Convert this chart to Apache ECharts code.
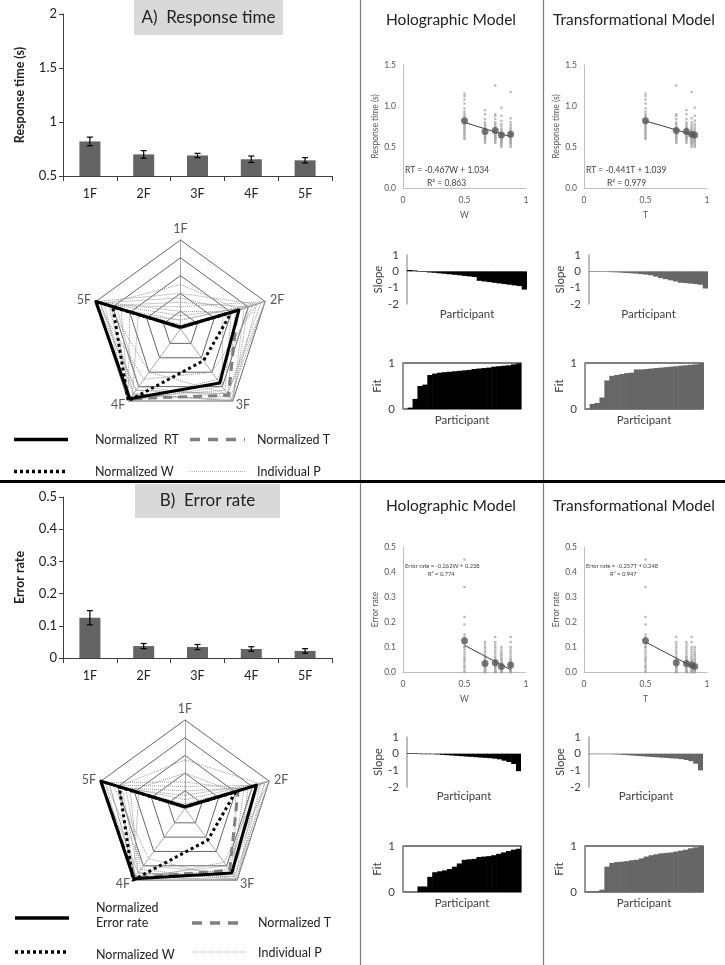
<!DOCTYPE html>
<html><head><meta charset="utf-8">
<script src="https://cdn.jsdelivr.net/npm/echarts@6/dist/echarts.min.js"></script>
<style>html,body{margin:0;padding:0;background:#fff}#c{width:725px;height:965px}</style>
</head><body><div id="c"></div>
<script>
const FONT = 'Lato';
// ---------- data ----------
const cats = ['1F', '2F', '3F', '4F', '5F'];
const rtMean = [0.82, 0.70, 0.69, 0.655, 0.645];
const rtErr = [0.04, 0.035, 0.02, 0.03, 0.025];
const erMean = [0.125, 0.037, 0.034, 0.028, 0.022];
const erErr = [0.022, 0.008, 0.008, 0.007, 0.007];
const wVal = [0.5, 0.75, 0.667, 0.875, 0.8];
const tVal = [0.5, 0.75, 0.833, 0.875, 0.9];

// radar (normalized, order 1F..5F)
const normRT = [0.02, 0.69, 0.75, 0.97, 1.0];
const normT_A = [0.02, 0.67, 0.92, 0.97, 1.0];
const normW_A = [0.02, 0.6, 0.44, 1.0, 0.8];
const normER = [0.02, 0.85, 0.9, 0.98, 1.0];
const normT_B = [0.02, 0.63, 0.86, 0.97, 1.0];
const normW_B = [0.02, 0.6, 0.44, 1.0, 0.78];
const indivA = [
  [0.0, 0.95, 0.9, 0.85, 1.0],
  [0.3, 0.8, 1.0, 0.9, 0.85],
  [0.5, 0.7, 0.75, 1.0, 0.9],
  [0.1, 1.0, 0.95, 0.8, 0.75],
  [0.2, 0.6, 0.85, 0.95, 1.0],
  [0.0, 0.85, 0.7, 1.0, 0.6],
  [0.4, 0.9, 0.6, 0.7, 1.0],
  [0.15, 0.75, 1.0, 0.9, 0.95],
  [0.05, 0.5, 0.8, 1.0, 0.7],
  [0.25, 1.0, 0.9, 0.6, 0.85],
  [0.1, 0.9, 0.98, 0.92, 0.5],
  [0.35, 0.65, 0.9, 0.85, 0.95]
];
const indivB = [
  [0.0, 1.0, 0.95, 0.9, 1.0],
  [0.55, 0.9, 1.0, 0.95, 0.8],
  [0.3, 0.7, 0.9, 1.0, 0.95],
  [0.15, 0.95, 1.0, 0.85, 0.7],
  [0.0, 0.8, 0.85, 1.0, 1.0],
  [0.4, 0.6, 0.95, 0.9, 0.65],
  [0.1, 1.0, 0.8, 0.95, 0.9],
  [0.25, 0.85, 1.0, 0.7, 0.85],
  [0.0, 0.9, 0.75, 1.0, 0.55],
  [0.05, 1.0, 1.0, 0.95, 0.9],
  [0.2, 0.75, 0.98, 0.9, 0.75],
  [0.0, 0.95, 0.9, 0.8, 0.95]
];

// individual RT per condition
const rtInd = [
  [0.6,0.61,0.63,0.65,0.67,0.69,0.7,0.72,0.74,0.75,0.77,0.78,0.8,0.82,0.84,0.86,0.88,0.9,0.93,0.97,1.03,1.08,1.12,1.15],
  [0.55,0.57,0.58,0.6,0.61,0.62,0.63,0.64,0.65,0.66,0.67,0.68,0.69,0.7,0.71,0.72,0.74,0.76,0.78,0.8,0.84,0.88,0.9,1.25],
  [0.55,0.57,0.59,0.6,0.61,0.62,0.63,0.64,0.65,0.66,0.67,0.68,0.69,0.7,0.71,0.72,0.73,0.74,0.76,0.78,0.8,0.84,0.9,0.95],
  [0.5,0.52,0.54,0.55,0.56,0.57,0.58,0.59,0.6,0.61,0.62,0.63,0.64,0.65,0.66,0.67,0.68,0.7,0.72,0.74,0.77,0.8,0.85,1.17],
  [0.5,0.52,0.53,0.55,0.56,0.57,0.58,0.59,0.6,0.61,0.62,0.63,0.64,0.65,0.66,0.67,0.68,0.7,0.72,0.75,0.78,0.82,0.88,0.98]
];
// individual error rate per condition
const erInd = [
  [0,0,0.01,0.02,0.02,0.03,0.04,0.05,0.05,0.06,0.07,0.08,0.09,0.1,0.1,0.11,0.12,0.13,0.14,0.15,0.19,0.22,0.34,0.45],
  [0,0,0,0,0.01,0.01,0.02,0.02,0.02,0.03,0.03,0.03,0.04,0.04,0.05,0.05,0.06,0.07,0.08,0.09,0.1,0.11,0.12,0.14],
  [0,0,0,0,0.01,0.01,0.01,0.02,0.02,0.03,0.03,0.03,0.04,0.04,0.05,0.05,0.06,0.06,0.07,0.08,0.09,0.1,0.11,0.12],
  [0,0,0,0,0,0.01,0.01,0.02,0.02,0.02,0.03,0.03,0.03,0.04,0.04,0.05,0.05,0.06,0.07,0.08,0.09,0.1,0.12,0.14],
  [0,0,0,0,0,0.01,0.01,0.01,0.02,0.02,0.02,0.03,0.03,0.03,0.04,0.04,0.05,0.05,0.06,0.07,0.07,0.08,0.09,0.1]
];
// regression line end points
const trendRT_W = [[0.5, 0.80], [0.875, 0.625]];
const trendRT_T = [[0.5, 0.818], [0.9, 0.642]];
const trendER_W = [[0.5, 0.107], [0.875, 0.009]];
const trendER_T = [[0.5, 0.120], [0.9, 0.017]];

// per participant slope / fit (sorted)
const slopeA_W = [0.08,0.06,-0.02,-0.04,-0.07,-0.09,-0.12,-0.15,-0.18,-0.21,-0.24,-0.28,-0.31,-0.35,-0.58,-0.62,-0.66,-0.7,-0.74,-0.78,-0.82,-0.86,-0.9,-1.12];
const slopeA_T = [0.0,-0.01,-0.02,-0.03,-0.05,-0.06,-0.08,-0.1,-0.12,-0.14,-0.17,-0.2,-0.24,-0.32,-0.42,-0.48,-0.55,-0.62,-0.7,-0.72,-0.75,-0.78,-0.82,-1.05];
const fitA_W = [0.0,0.03,0.22,0.5,0.53,0.74,0.77,0.79,0.8,0.81,0.82,0.83,0.84,0.85,0.87,0.88,0.89,0.9,0.92,0.93,0.94,0.95,0.97,0.99];
const fitA_T = [0.0,0.11,0.13,0.25,0.62,0.72,0.74,0.76,0.78,0.79,0.86,0.86,0.87,0.88,0.89,0.9,0.91,0.92,0.93,0.94,0.95,0.96,0.97,0.99];
const slopeB_W = [0.02,0.02,0.01,0.0,-0.01,-0.03,-0.05,-0.07,-0.09,-0.11,-0.13,-0.15,-0.17,-0.19,-0.21,-0.23,-0.25,-0.27,-0.3,-0.34,-0.42,-0.5,-0.62,-1.05];
const slopeB_T = [0.0,0.0,-0.01,-0.02,-0.03,-0.05,-0.06,-0.08,-0.1,-0.12,-0.14,-0.16,-0.18,-0.2,-0.22,-0.24,-0.26,-0.28,-0.3,-0.33,-0.38,-0.45,-0.6,-1.0];
const fitB_W = [0,0,0,0.12,0.12,0.33,0.43,0.45,0.47,0.5,0.55,0.62,0.7,0.71,0.72,0.76,0.77,0.78,0.8,0.83,0.86,0.89,0.92,0.94];
const fitB_T = [0.01,0.01,0.02,0.05,0.55,0.63,0.65,0.66,0.67,0.69,0.7,0.73,0.77,0.8,0.82,0.84,0.85,0.86,0.88,0.9,0.92,0.95,0.97,0.99];
const participants = slopeA_W.map((_, i) => 'P' + (i + 1));

// ---------- build ----------
const chart = echarts.init(document.getElementById('c'));
const grids = [], xAxes = [], yAxes = [], series = [];
function addGrid(g, x, y) {
  grids.push(g); const i = grids.length - 1;
  xAxes.push(Object.assign({gridIndex: i}, x));
  yAxes.push(Object.assign({gridIndex: i}, y));
  return i;
}
const errRender = (params, api) => {
  const x = api.value(0), y = api.value(1), e = api.value(2);
  const lo = api.coord([x, y - e]), hi = api.coord([x, y + e]);
  const w = 3, st = {stroke: '#000', lineWidth: 1.2};
  return {type: 'group', children: [
    {type: 'line', shape: {x1: lo[0], y1: lo[1], x2: hi[0], y2: hi[1]}, style: st},
    {type: 'line', shape: {x1: lo[0] - w, y1: lo[1], x2: lo[0] + w, y2: lo[1]}, style: st},
    {type: 'line', shape: {x1: hi[0] - w, y1: hi[1], x2: hi[0] + w, y2: hi[1]}, style: st}
  ]};
};
function barPanel(top, height, ymin, ymax, interval, name, means, errs) {
  const i = addGrid({left: 63, top, width: 269, height},
    {type: 'category', data: cats,
     axisLine: {lineStyle: {color: '#404040'}},
     axisTick: {show: true, length: 5, lineStyle: {color: '#404040'}},
     axisLabel: {fontSize: 12.5, color: '#222', margin: 11, fontFamily: FONT}},
    {type: 'value', min: ymin, max: ymax, interval,
     axisLine: {show: true, lineStyle: {color: '#404040'}},
     axisTick: {show: true, length: 4, lineStyle: {color: '#404040'}},
     splitLine: {show: false},
     axisLabel: {fontSize: 13, color: '#222', margin: 6, fontFamily: FONT},
     name, nameLocation: 'middle', nameGap: 37,
     nameTextStyle: {fontSize: 12.5, fontWeight: 'bold', color: '#222', fontFamily: FONT}});
  series.push({type: 'bar', xAxisIndex: i, yAxisIndex: i, data: means, barWidth: 21,
    itemStyle: {color: '#646464'}, clip: true});
  series.push({type: 'custom', xAxisIndex: i, yAxisIndex: i, z: 5,
    data: means.map((m, k) => [k, m, errs[k]]), renderItem: errRender});
}
barPanel(14, 162, 0.5, 2, 0.5, 'Response time (s)', rtMean, rtErr);
barPanel(497, 161, 0, 0.5, 0.1, 'Error rate', erMean, erErr);

const smallLbl = {fontSize: 8.5, color: '#595959', fontFamily: FONT};
function scatPanel(left, top, height, ymax, yint, yname, xname, xs, means, ind, trend, xGap) {
  const i = addGrid({left, top, width: 123, height},
    {type: 'value', min: 0, max: 1, interval: 0.5,
     axisLine: {lineStyle: {color: '#bfbfbf'}}, axisTick: {show: false}, splitLine: {show: false},
     axisLabel: Object.assign({margin: xGap}, smallLbl),
     name: xname, nameLocation: 'middle', nameGap: xGap + 15, nameTextStyle: smallLbl},
    {type: 'value', min: 0, max: ymax, interval: yint,
     axisLine: {show: true, lineStyle: {color: '#bfbfbf'}}, axisTick: {show: false}, splitLine: {show: false},
     axisLabel: Object.assign({margin: 7, formatter: v => v.toFixed(1)}, smallLbl),
     name: yname, nameLocation: 'middle', nameGap: 21, nameTextStyle: smallLbl});
  const pts = [];
  ind.forEach((col, k) => col.forEach(v => pts.push([xs[k], v])));
  series.push({type: 'scatter', xAxisIndex: i, yAxisIndex: i, data: pts, symbol: 'rect', symbolSize: 2.3,
    itemStyle: {color: '#a6a6a6'}, silent: true});
  series.push({type: 'line', xAxisIndex: i, yAxisIndex: i, data: trend, symbol: 'none',
    lineStyle: {color: '#404040', width: 1}, z: 3});
  series.push({type: 'scatter', xAxisIndex: i, yAxisIndex: i, data: means.map((m, k) => [xs[k], m]),
    symbol: 'circle', symbolSize: 7, itemStyle: {color: '#595959'}, z: 4});
}
scatPanel(403, 65, 123, 1.5, 0.5, 'Response time (s)', 'W', wVal, rtMean, rtInd, trendRT_W, 8);
scatPanel(584, 65, 123, 1.5, 0.5, 'Response time (s)', 'T', tVal, rtMean, rtInd, trendRT_T, 8);
scatPanel(403, 547, 125, 0.5, 0.1, 'Error rate', 'W', wVal, erMean, erInd, trendER_W, 8);
scatPanel(584, 547, 125, 0.5, 0.1, 'Error rate', 'T', tVal, erMean, erInd, trendER_T, 8);

// contiguous step bars drawn from the axis scales
const stepRender = (params, api) => {
  const k = api.value(0), v = api.value(1);
  const base = api.coord([k, 0]), top = api.coord([k, v]);
  const w = api.size([1, 0])[0];
  const y0 = Math.min(base[1], top[1]), h = Math.abs(base[1] - top[1]);
  return {type: 'rect', shape: {x: base[0] - w / 2 - 0.3, y: y0, width: w + 0.6, height: Math.max(h, 0.6)},
    style: {fill: api.visual('color')}};
};
const midLbl = {fontSize: 11.5, color: '#404040', fontFamily: FONT};
function partPanel(left, top, width, height, ymin, ymax, name, data, color, boxed, nameGapX) {
  const i = addGrid({left, top, width, height, show: boxed, borderColor: '#000', borderWidth: 1.2},
    {type: 'category', data: participants, axisLine: {show: false, onZero: false}, axisTick: {show: false},
     axisLabel: {show: false},
     name: 'Participant', nameLocation: 'middle', nameGap: nameGapX, nameTextStyle: midLbl},
    {type: 'value', min: ymin, max: ymax, interval: 1,
     axisLine: {show: true, onZero: false, lineStyle: {color: '#a6a6a6', width: 1.5}}, axisTick: {show: false},
     splitLine: {show: false}, axisLabel: Object.assign({margin: 8}, midLbl),
     name, nameLocation: 'middle', nameGap: boxed ? 20 : 22, nameTextStyle: midLbl});
  series.push({type: 'custom', xAxisIndex: i, yAxisIndex: i, data: data.map((v, k) => [k, v]),
    itemStyle: {color}, renderItem: stepRender, clip: true, z: 1});
}
partPanel(407, 255, 120, 49, -2, 1, 'Slope', slopeA_W, '#000', false, 4);
partPanel(589, 255, 119, 49, -2, 1, 'Slope', slopeA_T, '#666', false, 4);
partPanel(403, 363, 118, 46, 0, 1, 'Fit', fitA_W, '#000', true, 5);
partPanel(585, 363, 118, 46, 0, 1, 'Fit', fitA_T, '#666', true, 5);
partPanel(407, 737, 114, 50, -2, 1, 'Slope', slopeB_W, '#000', false, 3);
partPanel(589, 737, 114, 50, -2, 1, 'Slope', slopeB_T, '#666', false, 3);
partPanel(403, 846, 118, 46, 0, 1, 'Fit', fitB_W, '#000', true, 5);
partPanel(585, 846, 118, 46, 0, 1, 'Fit', fitB_T, '#666', true, 5);

// radars (indicators placed counterclockwise: 1F,5F,4F,3F,2F)
const ro = r => [r[0], r[4], r[3], r[2], r[1]];
const radarInd = ['1F', '5F', '4F', '3F', '2F'].map(n => ({name: n, min: 0, max: 1}));
function radarComp(cx, cy, r) {
  return {center: [cx, cy], radius: r, indicator: radarInd, shape: 'polygon', splitNumber: 5,
    startAngle: 90, axisNameGap: 5,
    axisName: {color: '#595959', fontSize: 12.5, fontFamily: FONT},
    splitLine: {lineStyle: {color: '#404040', width: 0.8}},
    splitArea: {show: false},
    axisLine: {lineStyle: {color: '#8a8a8a', width: 0.8, type: 'dotted'}},
    axisLabel: {show: false}, axisTick: {show: false}};
}
const radars = [radarComp(180.5, 329, 89), radarComp(185, 808.5, 88.5)];
function radarSeries(idx, indiv, nT, nW, nMain) {
  const data = indiv.map(p => ({value: ro(p), lineStyle: {color: '#9a9a9a', width: 1, type: 'dotted'}}));
  data.push({value: ro(nT), lineStyle: {color: '#808080', width: 3, type: [9, 6]}});
  data.push({value: ro(nW), lineStyle: {color: '#000', width: 3, type: [3, 3]}});
  data.push({value: ro(nMain), lineStyle: {color: '#000', width: 3, type: 'solid'}});
  series.push({type: 'radar', radarIndex: idx, symbol: 'none', data, silent: true});
}
radarSeries(0, indivA, normT_A, normW_A, normRT);
radarSeries(1, indivB, normT_B, normW_B, normER);

// ---------- decorations ----------
const g = [];
const txt = (x, y, text, size, opts) => g.push(Object.assign({type: 'text', x, y, z: 10,
  style: Object.assign({text, fontSize: size, fontFamily: FONT, fill: '#222', align: 'left', verticalAlign: 'middle'}, opts || {})}));
const ln = (x1, y1, x2, y2, stroke, lw, dash) => g.push({type: 'line', z: 10,
  shape: {x1, y1, x2, y2}, style: {stroke, lineWidth: lw, lineDash: dash || null}});
// dividers
ln(360.5, 0, 360.5, 965, '#7f7f7f', 1.2);
ln(543.5, 0, 543.5, 965, '#7f7f7f', 1.2);
ln(0, 481.5, 725, 481.5, '#000', 3);
// title boxes
g.push({type: 'rect', shape: {x: 134, y: 0, width: 149, height: 35}, style: {fill: '#d9d9d9'}, z: 1});
txt(208.5, 17.5, 'A)  Response time', 17, {align: 'center'});
g.push({type: 'rect', shape: {x: 135, y: 484, width: 145, height: 34}, style: {fill: '#d9d9d9'}, z: 1});
txt(207.5, 501, 'B)  Error rate', 17, {align: 'center'});
// headers
txt(451, 20, 'Holographic Model', 15.5, {align: 'center'});
txt(634, 20, 'Transformational Model', 15.5, {align: 'center'});
txt(451, 506, 'Holographic Model', 15.5, {align: 'center'});
txt(634, 506, 'Transformational Model', 15.5, {align: 'center'});
// equations
const eqS = {fill: '#404040'};
txt(405, 170, 'RT = -0.467W + 1.034', 8.5, eqS);
txt(427, 183, 'R² = 0.863', 8.5, eqS);
txt(586, 170, 'RT = -0.441T + 1.039', 8.5, eqS);
txt(607, 183, 'R² = 0.979', 8.5, eqS);
txt(405, 566, 'Error rate = -0.262W + 0.238', 5.8, eqS);
txt(428, 574, 'R² = 0.774', 5.8, eqS);
txt(586, 566, 'Error rate = -0.257T + 0.248', 5.8, eqS);
txt(610, 574, 'R² = 0.947', 5.8, eqS);
// legends
const legSize = 12.5;
ln(14, 439.5, 68, 439.5, '#000', 3.5);
txt(95, 440, 'Normalized  RT', legSize);
ln(190, 439.5, 245, 439.5, '#808080', 3.5, [10, 8]);
txt(257, 440, 'Normalized T', legSize);
ln(14, 471.5, 67, 471.5, '#000', 3.5, [3, 3]);
txt(95, 472, 'Normalized W', legSize);
ln(190, 471.5, 245, 471.5, '#b4b4b4', 1, [1, 1]);
txt(257, 472, 'Individual P', legSize);

ln(15, 918, 69, 918, '#000', 3.5);
txt(96, 908, 'Normalized', legSize);
txt(96, 923, 'Error rate', legSize);
ln(192, 923, 246, 923, '#808080', 3.5, [10, 8]);
txt(258, 923, 'Normalized T', legSize);
ln(15, 952, 69, 952, '#000', 3.5, [3, 3]);
txt(96, 955, 'Normalized W', legSize);
ln(192, 952, 246, 952, '#b4b4b4', 1, [1, 1]);
txt(258, 953, 'Individual P', legSize);

chart.setOption({
  animation: false,
  backgroundColor: '#fff',
  textStyle: {fontFamily: FONT},
  grid: grids, xAxis: xAxes, yAxis: yAxes, radar: radars, series,
  graphic: {elements: g}
});
</script></body></html>
